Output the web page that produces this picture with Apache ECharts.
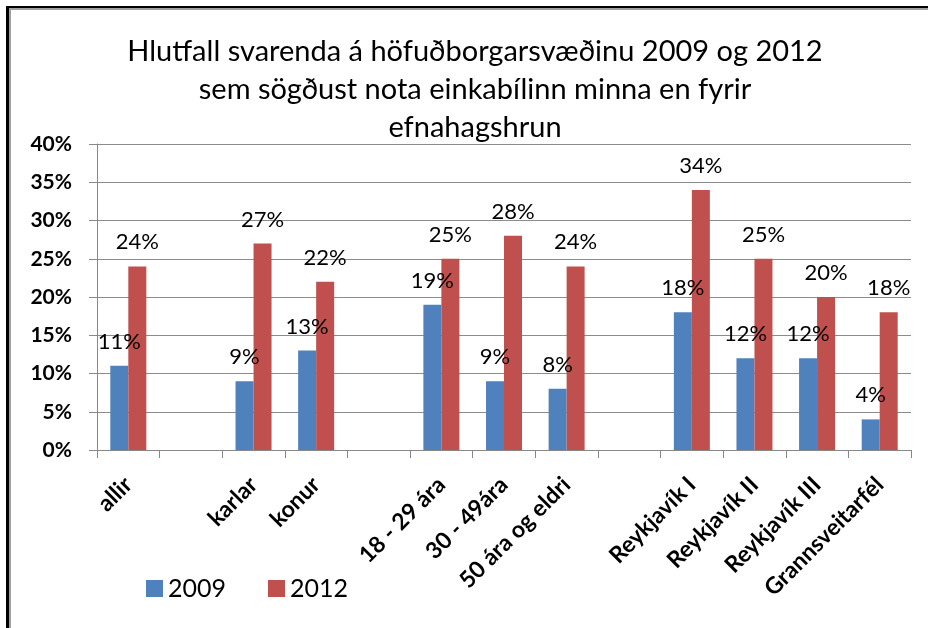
<!DOCTYPE html>
<html>
<head>
<meta charset="utf-8">
<script src="https://cdn.jsdelivr.net/npm/echarts@6/dist/echarts.min.js"></script>
<style>
html,body{margin:0;padding:0;background:#fff;}
#chart{width:928px;height:628px;}
</style>
</head>
<body>
<div id="chart"></div>
<script>
const categories = ['allir', '', 'karlar', 'konur', '', '18 - 29 ára', '30 - 49ára', '50 ára og eldri', '', 'Reykjavík I', 'Reykjavík II', 'Reykjavík III', 'Grannsveitarfél'];
const values2009 = [11, null, 9, 13, null, 19, 9, 8, null, 18, 12, 12, 4];
const values2012 = [24, null, 27, 22, null, 25, 28, 24, null, 34, 25, 20, 18];
const seriesNames = ['2009', '2012'];
const yTicks = {min: 0, max: 40, interval: 5};
const titleText = 'Hlutfall svarenda á höfuðborgarsvæðinu 2009 og 2012\nsem sögðust nota einkabílinn minna en fyrir\nefnahagshrun';

const FONT = 'Lato';
const chart = echarts.init(document.getElementById('chart'), null, {renderer: 'canvas'});
const labelCfg = {
  show: true, position: 'top', distance: 13,
  formatter: p => p.value == null ? '' : p.value + '%',
  fontFamily: FONT, fontSize: 22, color: '#000'
};
chart.setOption({
  animation: false,
  backgroundColor: '#fff',
  title: {
    text: titleText,
    left: 470, top: 28, textAlign: 'center',
    textStyle: {fontFamily: FONT, fontSize: 29, fontWeight: 'normal', color: '#000', lineHeight: 38}
  },
  legend: {
    left: 141, top: 571,
    itemWidth: 17, itemHeight: 17, itemGap: 42,
    icon: 'rect',
    textStyle: {fontFamily: FONT, fontSize: 25, color: '#000', padding: [0, 0, 0, 0]},
    data: seriesNames
  },
  grid: {left: 97, right: 17, top: 144, bottom: 178, containLabel: false},
  xAxis: {
    type: 'category', data: categories,
    axisLine: {lineStyle: {color: '#888'}},
    axisTick: {show: true, length: 8, interval: 0, lineStyle: {color: '#888'}},
    axisLabel: {interval: 0, rotate: 45, margin: 31, fontFamily: FONT, fontSize: 23, fontWeight: 'bold', color: '#000'}
  },
  yAxis: {
    type: 'value', min: yTicks.min, max: yTicks.max, interval: yTicks.interval,
    axisLine: {show: true, lineStyle: {color: '#888'}},
    axisTick: {show: true, length: 8, lineStyle: {color: '#888'}},
    splitLine: {lineStyle: {color: '#8c8c8c', width: 1}},
    axisLabel: {formatter: '{value}%', margin: 25, fontFamily: FONT, fontSize: 21, fontWeight: 'bold', color: '#000'}
  },
  series: [
    {name: seriesNames[0], type: 'bar', data: values2009, barWidth: 18, barGap: '0%',
     itemStyle: {color: '#4F81BD'}, label: labelCfg},
    {name: seriesNames[1], type: 'bar', data: values2012, barWidth: 18, barGap: '0%',
     itemStyle: {color: '#C0504D'}, label: labelCfg}
  ],
  graphic: [
    {type: 'rect', shape: {x: 6, y: 6, width: 922, height: 2}, style: {fill: '#000'}, silent: true},
    {type: 'rect', shape: {x: 8, y: 8, width: 920, height: 2}, style: {fill: '#a0a0a0'}, silent: true},
    {type: 'rect', shape: {x: 6, y: 6, width: 3, height: 622}, style: {fill: '#000'}, silent: true},
    {type: 'rect', shape: {x: 9, y: 8, width: 2, height: 620}, style: {fill: '#a0a0a0'}, silent: true}
  ]
});
</script>
</body>
</html>
